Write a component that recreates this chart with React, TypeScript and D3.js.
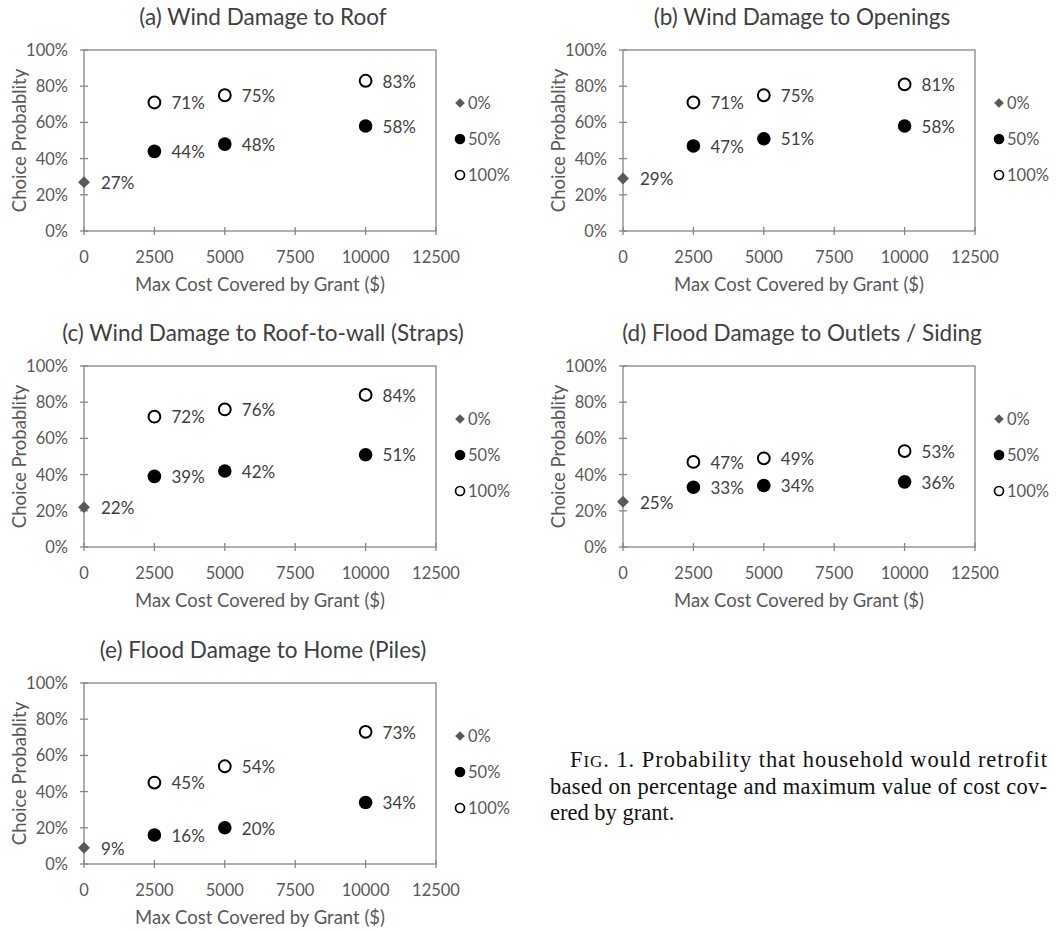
import React from "react";
import * as d3 from "d3";

const xTicks = [0, 2500, 5000, 7500, 10000, 12500];
const yTicks = [0, 0.2, 0.4, 0.6, 0.8, 1.0];
const costLevels = [2500, 5000, 10000];
const legendLabels = ["0%", "50%", "100%"];

const titles = [
  "(a) Wind Damage to Roof",
  "(b) Wind Damage to Openings",
  "(c) Wind Damage to Roof-to-wall (Straps)",
  "(d) Flood Damage to Outlets / Siding",
  "(e) Flood Damage to Home (Piles)",
];
const base0 = [27, 29, 22, 25, 9];
const grant50 = [
  [44, 48, 58],
  [47, 51, 58],
  [39, 42, 51],
  [33, 34, 36],
  [16, 20, 34],
];
const grant100 = [
  [71, 75, 83],
  [71, 75, 81],
  [72, 76, 84],
  [47, 49, 53],
  [45, 54, 73],
];

const FONT = "Lato, 'Open Sans', sans-serif";
const AXIS = "#868686";
const TXT = "#595959";
const DARK = "#404040";

const offsets = [
  [0, 0],
  [539, 0],
  [0, 316],
  [539, 316],
  [0, 633],
];

function Panel({ i }: { i: number }) {
  const x = d3.scaleLinear().domain([0, 12500]).range([84, 436]);
  const y = d3.scaleLinear().domain([0, 1]).range([231, 50]);
  const [ox, oy] = offsets[i];
  const diamond = d3.symbol().type(d3.symbolDiamond2).size(90)();
  const legDiamond = d3.symbol().type(d3.symbolDiamond2).size(60)();
  const r = 6.8;
  return (
    <g transform={`translate(${ox},${oy})`}>
      <text x={263} y={25} textAnchor="middle" fontSize={22.5} fill={DARK} fontFamily={FONT}>
        {titles[i]}
      </text>
      <rect x={x(0)} y={y(1)} width={x(12500) - x(0)} height={y(0) - y(1)} fill="none" stroke={AXIS} strokeWidth={1.3} />
      {yTicks.map((t) => (
        <g key={"y" + t}>
          <line x1={x(0) - 4} x2={x(0) + 4} y1={y(t)} y2={y(t)} stroke={AXIS} strokeWidth={1.3} />
          <text x={68} y={y(t)} dy="0.36em" textAnchor="end" fontSize={16.5} fill={TXT} fontFamily={FONT}>
            {d3.format(".0%")(t)}
          </text>
        </g>
      ))}
      {xTicks.map((t) => (
        <g key={"x" + t}>
          <line x1={x(t)} x2={x(t)} y1={y(0) - 4} y2={y(0) + 4} stroke={AXIS} strokeWidth={1.3} />
          <text x={x(t)} y={263} textAnchor="middle" fontSize={16.5} fill={TXT} fontFamily={FONT}>
            {t}
          </text>
        </g>
      ))}
      <text x={260} y={291} textAnchor="middle" fontSize={18.5} fill={TXT} fontFamily={FONT}>
        Max Cost Covered by Grant ($)
      </text>
      <text
        transform={`translate(20,140.5) rotate(-90)`}
        dy="0.35em"
        textAnchor="middle"
        fontSize={18.5}
        fill={TXT}
        fontFamily={FONT}
      >
        Choice Probablity
      </text>
      {/* 0% series */}
      <path d={diamond || ""} transform={`translate(${x(0)},${y(base0[i] / 100)})`} fill="#595959" />
      <text x={x(0) + 17} y={y(base0[i] / 100)} dy="0.4em" fontSize={17} fill={DARK} fontFamily={FONT}>
        {base0[i]}%
      </text>
      {/* 50% series */}
      {costLevels.map((c, k) => (
        <g key={"f" + c}>
          <circle cx={x(c)} cy={y(grant50[i][k] / 100)} r={r} fill="#000" />
          <text x={x(c) + 17} y={y(grant50[i][k] / 100)} dy="0.4em" fontSize={17} fill={DARK} fontFamily={FONT}>
            {grant50[i][k]}%
          </text>
        </g>
      ))}
      {/* 100% series */}
      {costLevels.map((c, k) => (
        <g key={"o" + c}>
          <circle cx={x(c)} cy={y(grant100[i][k] / 100)} r={r - 0.9} fill="#fff" stroke="#000" strokeWidth={2} />
          <text x={x(c) + 17} y={y(grant100[i][k] / 100)} dy="0.4em" fontSize={17} fill={DARK} fontFamily={FONT}>
            {grant100[i][k]}%
          </text>
        </g>
      ))}
      {/* legend */}
      <g>
        <path d={legDiamond || ""} transform={`translate(460,103)`} fill="#595959" />
        <circle cx={460} cy={139} r={5.3} fill="#000" />
        <circle cx={460} cy={175} r={4.5} fill="#fff" stroke="#000" strokeWidth={1.7} />
        {legendLabels.map((l, k) => (
          <text key={l} x={468} y={103 + k * 36} dy="0.38em" fontSize={16.5} fill={TXT} fontFamily={FONT}>
            {l}
          </text>
        ))}
      </g>
    </g>
  );
}

const captionLines = [
  "Probability that household would retrofit",
  "based on percentage and maximum value of cost cov-",
  "ered by grant.",
];

export default function App() {
  const SERIF = "'Liberation Serif', 'Times New Roman', serif";
  return (
    <svg
      width={1057}
      height={931}
      style={{ position: "absolute", left: 0, top: 0, background: "#fff" }}
    >
      <rect width={1057} height={931} fill="#fff" />
      {titles.map((_, i) => (
        <Panel key={i} i={i} />
      ))}
      <text x={570} y={767} fontSize={22.5} fill="#111" fontFamily={SERIF} textLength={477} lengthAdjust="spacing">
        F<tspan fontSize={17}>IG</tspan>. 1. {captionLines[0]}
      </text>
      <text x={550} y={794} fontSize={22.5} fill="#111" fontFamily={SERIF} textLength={497} lengthAdjust="spacing">
        {captionLines[1]}
      </text>
      <text x={550} y={820} fontSize={22.5} fill="#111" fontFamily={SERIF}>
        {captionLines[2]}
      </text>
    </svg>
  );
}
